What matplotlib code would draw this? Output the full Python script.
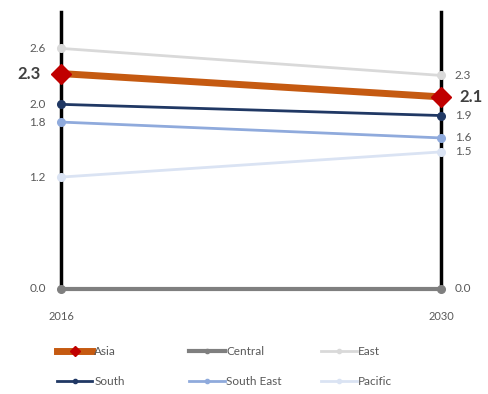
import matplotlib.pyplot as plt

plt.rcParams['font.family'] = ['Lato', 'DejaVu Sans']

years = ['2016', '2030']
regions = ['Asia', 'Central', 'East', 'South', 'South East', 'Pacific']
start = [2.31, 0.0, 2.58, 1.98, 1.79, 1.20]
end = [2.06, 0.0, 2.29, 1.86, 1.62, 1.47]
colors = ['#C55A11', '#7F7F7F', '#D9D9D9', '#203864', '#8FAADC', '#DAE3F3']

fig = plt.figure(figsize=(4.89, 3.94), dpi=100)
ax = fig.add_axes([0.1247, 0.2665, 0.777, 0.703])

handles = {}
for name, a, b, c in zip(regions, start, end, colors):
    if name == 'Asia':
        h, = ax.plot([0, 1], [a, b], color=c, lw=5, zorder=4, clip_on=False,
                     marker='D', ms=10, mfc='#C00000', mec='#C00000')
    else:
        lw = 3 if name == 'Central' else 2
        h, = ax.plot([0, 1], [a, b], color=c, lw=lw, zorder=3, clip_on=False,
                     marker='o', ms=5.5, mfc=c, mec=c)
    handles[name] = h

# value labels on both sides
for name, a, b in zip(regions, start, end):
    big = name == 'Asia'
    kw = dict(fontsize=12 if big else 8.5, fontweight='bold' if big else 'normal',
              color='#404040' if big else '#595959', va='center')
    ax.annotate(f'{a:.1f}', (0, a), xytext=(-15 if big else -11, 0),
                textcoords='offset points', ha='right', **kw)
    ax.annotate(f'{b:.1f}', (1, b), xytext=(13 if big else 10, 0),
                textcoords='offset points', ha='left', **kw)

ax.set_xlim(0, 1)
ax.set_ylim(0, 2.97)
ax.set_yticks([])
ax.set_xticks([0, 1])
ax.set_xticklabels(years, fontsize=8, color='#595959')
ax.tick_params(axis='x', length=0, pad=16)
ax.get_xticklabels()[1].set_x(0.985)
for s in ['top', 'bottom']:
    ax.spines[s].set_visible(False)
for s in ['left', 'right']:
    ax.spines[s].set_linewidth(2.5)
    ax.spines[s].set_color('black')
    ax.spines[s].set_zorder(1)

# one legend per column so the columns sit evenly spaced
columns = [['Asia', 'South'], ['Central', 'South East'], ['East', 'Pacific']]
for i, col in enumerate(columns):
    leg = fig.legend([handles[n] for n in col], col, frameon=False,
                     loc='lower left', bbox_to_anchor=(0.095 + i * 0.27, -0.01),
                     fontsize=8.5, handlelength=3.0, handletextpad=0.15,
                     labelspacing=1.6, markerscale=0.55)
    for t in leg.get_texts():
        t.set_color('#595959')

fig.savefig('out.png', dpi=100)
